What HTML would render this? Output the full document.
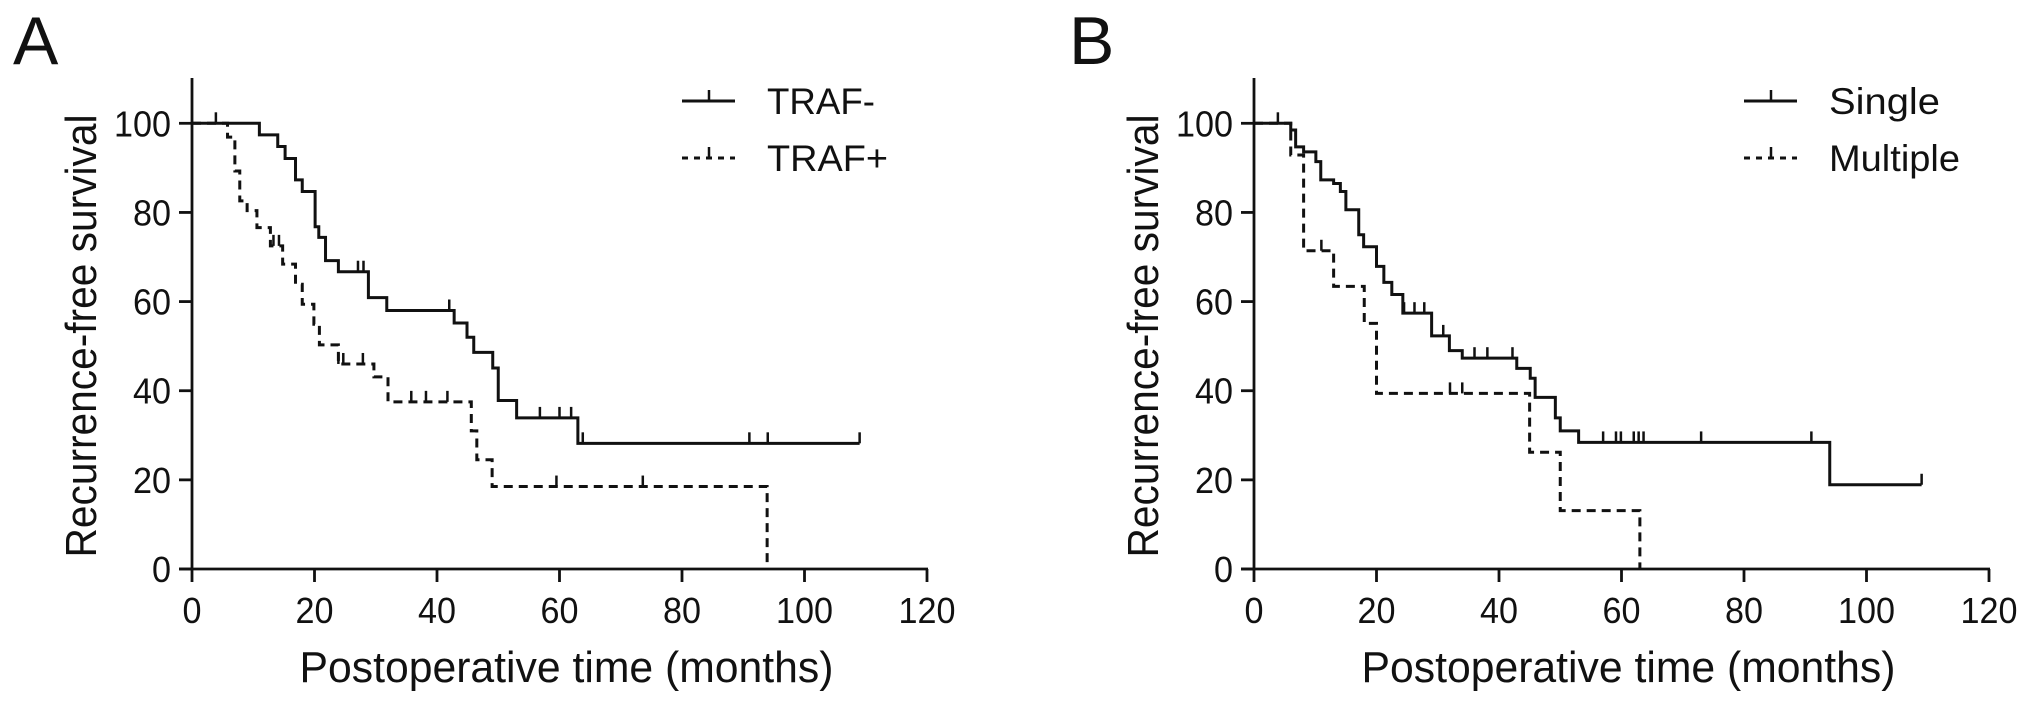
<!DOCTYPE html>
<html><head><meta charset="utf-8"><style>
html,body{margin:0;padding:0;background:#fff;}
svg{display:block;}
text{font-family:"Liberation Sans",Arial,sans-serif;fill:#111;}
</style></head><body>
<svg id="fig" width="2031" height="704" viewBox="0 0 2031 704" xmlns="http://www.w3.org/2000/svg"></svg>
<script>
// ---- data ----
const xTicks = [0,20,40,60,80,100,120];
const yTicks = [0,20,40,60,80,100];
// Panel A
const trafNegTimes = [11.0,14.0,15.2,16.9,18.0,20.1,20.7,21.8,23.9,28.8,31.8,42.8,44.9,46.0,49.1,50.0,53.0,63.0];
const trafNegValues = [97.4,94.8,92.1,87.3,84.7,76.8,74.4,69.2,66.7,60.9,58.0,55.2,52.0,48.6,45.1,37.8,33.9,28.2];
const trafNegCensor = [3.9,27.1,28.0,42.0,56.8,60.0,61.9,63.8,91,94,109];
const trafNegEnd = 109;
const trafPosTimes = [5.8,7.0,7.8,9.0,10.6,12.8,14.8,16.9,18.0,19.9,20.8,23.9,29.7,32.0,45.6,46.5,49.0,93.9];
const trafPosValues = [96.9,89.3,82.6,80.4,76.6,72.5,68.4,63.9,59.4,54.9,50.3,46.0,43.1,37.5,31.0,24.5,18.5,0];
const trafPosCensor = [13.3,14.2,23.9,24.7,27.9,35.8,38.2,41.7,59.5,73.6];
const trafPosEnd = 93.9;
// Panel B
const singleTimes = [6.0,6.8,8.1,10.1,10.9,13.0,14.1,15.0,17.1,17.9,20.0,21.2,22.5,24.3,29.0,31.9,34.0,42.9,45.1,45.9,49.2,50.0,53.0,94.0];
const singleValues = [98.5,94.7,93.6,91.4,87.3,86.5,84.7,80.6,75.0,72.3,67.9,64.3,61.6,57.4,52.3,49.0,47.3,45.0,42.8,38.5,33.9,31.0,28.4,18.9];
const singleCensor = [3.9,24.5,26.2,27.8,30.9,36.0,38.1,42.2,57.0,59.1,59.9,62.0,62.8,63.6,73.0,91.0,109];
const singleEnd = 109;
const multipleTimes = [6.0,8.1,13.0,18.0,20.0,45.0,50.0,63.0];
const multipleValues = [92.9,71.4,63.4,55.1,39.4,26.2,13.1,0];
const multipleCensor = [11.0,32.0,34.0];
const multipleEnd = 63.0;

const NS = "http://www.w3.org/2000/svg";
const svg = document.getElementById('fig');
function mk(tag, attrs, parent){
  const e = document.createElementNS(NS, tag);
  for (const k in attrs) e.setAttribute(k, attrs[k]);
  (parent||svg).appendChild(e);
  return e;
}
const Y0 = 569, Y100 = 123.3, YTOP = 78;
function yScale(v){ return Y0 - (v/100)*(Y0-Y100); }

function panel(cfg){
  const g = mk('g', {});
  
  
  const x0 = cfg.x0, pxPerMonth = 735/120;
  const xs = m => x0 + m*pxPerMonth;
  const L = mk('text', {x: cfg.letterX, y: 64, 'font-size': 68}, g);
  L.textContent = cfg.letter;
  
  
  const ya = mk('line', {x1: x0, y1: YTOP, x2: x0, y2: Y0, stroke: '#111', 'stroke-width': 2.8}, g);
  
  
  const xa = mk('line', {x1: x0-13, y1: Y0, x2: xs(120)+1, y2: Y0, stroke: '#111', 'stroke-width': 2.8}, g);
  
  
  yTicks.forEach(t => {
    const y = yScale(t);
    mk('line', {x1: x0-13, y1: y, x2: x0, y2: y, stroke: '#111', 'stroke-width': 2.8}, g);
    const s = String(t);
    const tx = mk('text', {x: x0-21, y: y+13, 'font-size': 36, 'text-anchor': 'end', textLength: s.length*19, lengthAdjust: 'spacingAndGlyphs'}, g);
    tx.textContent = s;
    
    
  });
  xTicks.forEach(t => {
    const x = xs(t);
    mk('line', {x1: x, y1: Y0, x2: x, y2: Y0+13, stroke: '#111', 'stroke-width': 2.8}, g);
    const s = String(t);
    const tx = mk('text', {x: x, y: 623, 'font-size': 36, 'text-anchor': 'middle', textLength: s.length*19, lengthAdjust: 'spacingAndGlyphs'}, g);
    tx.textContent = s;
    
    
  });
  const xt = mk('text', {x: (x0 + xs(120))/2 + 7, y: 682, 'font-size': 44, 'text-anchor': 'middle', textLength: 534, lengthAdjust: 'spacingAndGlyphs'}, g);
  xt.textContent = 'Postoperative time (months)';
  
  
  const ytx = x0 - 96, yty = 336;
  const yt = mk('text', {x: ytx, y: yty, 'font-size': 44, 'text-anchor': 'middle', textLength: 443, lengthAdjust: 'spacingAndGlyphs', transform: `rotate(-90 ${ytx} ${yty})`}, g);
  yt.textContent = 'Recurrence-free survival';
  
  

  cfg.series.forEach((sr, si) => {
    let d = `M${xs(0)},${yScale(100)}`;
    let prev = 100;
    sr.times.forEach((t, i) => {
      d += ` H${xs(t)} V${yScale(sr.values[i])}`;
      prev = sr.values[i];
    });
    if (prev > 0) d += ` H${xs(sr.end)}`;
    const p = mk('path', {d: d, fill: 'none', stroke: '#111', 'stroke-width': 3, 'stroke-dasharray': sr.dashed ? '9 6' : 'none'}, g);
    
    
    const valAt = m => { let v = 100; sr.times.forEach((t,i)=>{ if (t <= m) v = sr.values[i]; }); return v; };
    sr.censor.forEach(c => {
      const cx = xs(c), cy = yScale(valAt(c));
      const tk = mk('line', {x1: cx, y1: cy, x2: cx, y2: cy-11, stroke: '#111', 'stroke-width': 2.5}, g);
      
      
    });
    const ly = 101 + si*57;
    const lg = mk('g', {}, g);
    
    
    mk('line', {x1: x0+490, y1: ly, x2: x0+543, y2: ly, stroke: '#111', 'stroke-width': 3, 'stroke-dasharray': sr.dashed ? '6 6' : 'none'}, lg);
    mk('line', {x1: x0+517, y1: ly, x2: x0+517, y2: ly-11, stroke: '#111', 'stroke-width': 2.5}, lg);
    const lt = mk('text', {x: x0+575, y: ly+13, 'font-size': 37, textLength: sr.labelW, lengthAdjust: 'spacingAndGlyphs'}, lg);
    lt.textContent = sr.label;
  });
}

panel({name: 'panel-a', letter: 'A', letterX: 13, x0: 192, series: [
  {key: 'traf-neg', label: 'TRAF-', labelW: 108, times: trafNegTimes, values: trafNegValues, censor: trafNegCensor, end: trafNegEnd, dashed: false},
  {key: 'traf-pos', label: 'TRAF+', labelW: 121, times: trafPosTimes, values: trafPosValues, censor: trafPosCensor, end: trafPosEnd, dashed: true}
]});
panel({name: 'panel-b', letter: 'B', letterX: 1069, x0: 1254, series: [
  {key: 'single', label: 'Single', labelW: 111, times: singleTimes, values: singleValues, censor: singleCensor, end: singleEnd, dashed: false},
  {key: 'multiple', label: 'Multiple', labelW: 131, times: multipleTimes, values: multipleValues, censor: multipleCensor, end: multipleEnd, dashed: true}
]});
</script>
</body></html>
